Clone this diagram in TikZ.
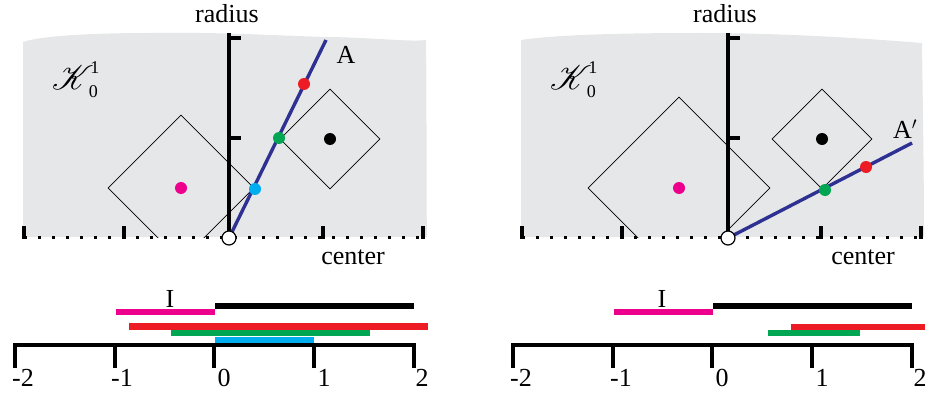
\documentclass[tikz,border=0pt]{standalone}
\usepackage{fontspec}
\setmainfont{Liberation Serif}
\usetikzlibrary{shapes.geometric}
\DeclareFontFamily{U}{rsfsbig}{\skewchar\font=127 }
\DeclareFontShape{U}{rsfsbig}{m}{n}{<-> rsfs10}{}
\newcommand{\Klabel}{{\fontsize{34}{34}\usefont{U}{rsfsbig}{m}{n}K}\kern7pt{\fontsize{18}{18}\selectfont\rlap{\raisebox{17pt}{1}}\kern-1.5pt\raisebox{-8pt}{0}}}
\definecolor{kgray}{HTML}{E6E7E8}
\definecolor{ablue}{HTML}{2E3192}
\definecolor{kred}{HTML}{ED1C24}
\definecolor{kgreen}{HTML}{00A651}
\definecolor{kcyan}{HTML}{00AEEF}
\definecolor{kmag}{HTML}{EC008C}
\begin{document}
\begin{tikzpicture}[x=1pt,y=-1pt,
  axisline/.style={line width=3.5pt,black,line join=miter},
  tickmk/.style={line width=3.5pt,black},
  dotline/.style={line width=3pt,black,dash pattern=on 3pt off 11pt},
  diam/.style={diamond,draw,line width=0.7pt,inner sep=0pt,aspect=1},
  lineA/.style={line width=3.4pt,ablue},
  dotpt/.style={circle,inner sep=0pt,minimum size=12pt},
  orig/.style={circle,inner sep=0pt,minimum size=14pt,draw,fill=white,line width=1.2pt},
  ibar/.style={line width=6.5pt},
  lbl/.style={font=\fontsize{26}{26}\selectfont,inner sep=0pt},
  klbl/.style={inner sep=0pt,anchor=base west}]
\useasboundingbox (0,0) rectangle (925,393);

% ---------- left panel ----------
\fill[kgray] (23,237) -- (23,42) .. controls (40,36) and (90,33) .. (150,33)
  .. controls (230,32) and (280,36) .. (330,37) .. controls (380,38) and (410,42) .. (426,40)
  .. controls (427,120) and (426,180) .. (427,237) -- cycle;
\node[klbl] (K1) at (52,90) {\Klabel};
\node[lbl] (rad1) at (227,14) {radius};
\node[lbl] (cen1) at (353,257) {center};
\begin{scope}
  \clip (0,0) rectangle (925,237.5);
  \node[diam,minimum size=146pt] (D1) at (181,188) {};
  \node[diam,minimum size=100pt] (D2) at (330,139) {};
\end{scope}
\draw[dotline] (24,237.5) -- (423,237.5);
\foreach \x in {24,124,323,423} \draw[tickmk] (\x,226) -- (\x,239);
\draw[axisline] (229,33) -- (229,238);
\draw[axisline] (227,38) -- (241,38);
\draw[axisline] (227,138) -- (241,138);
\coordinate (o1) at (229,238);
\coordinate (Aend) at (326,40);
\draw[lineA] (o1) -- (Aend);
\node[lbl] (Alab) at (346,55) {A};
\node[dotpt,fill=kmag] (m1) at (181,188) {};
\node[dotpt,fill=black] (b1) at (330,139) {};
\node[dotpt,fill=kcyan] (c1) at (255,189) {};
\node[dotpt,fill=kgreen] (g1) at (279,138) {};
\node[dotpt,fill=kred] (r1) at (304,84) {};
\node[orig] (O1) at (o1) {};

% ---------- left intervals ----------
\draw[ibar,kmag] (116,312) -- (215,312);
\draw[ibar,black] (215,306) -- (414,306);
\draw[ibar,kred] (129,326.5) -- (428,326.5);
\draw[ibar,kgreen] (171,333) -- (370,333);
\draw[ibar,kcyan] (215,340) -- (314,340);
\node[lbl] (I1) at (170,299) {I};
\draw[axisline] (15,368) -- (15,345) -- (414,345) -- (414,368);
\foreach \x in {115,214,314} \draw[axisline] (\x,345) -- (\x,368);
\node[lbl] (n2a) at (23,378) {-2};
\node[lbl] (n1a) at (122,378) {-1};
\node[lbl] (z0a) at (224,378) {0};
\node[lbl] (p1a) at (324,378) {1};
\node[lbl] (p2a) at (422,378) {2};

% ---------- right panel ----------
\fill[kgray] (521,237) -- (521,40) .. controls (560,34) and (640,33) .. (700,33)
  .. controls (780,33) and (860,38) .. (922,43)
  .. controls (923,120) and (924,180) .. (924,237) -- cycle;
\node[klbl] (K2) at (550,90) {\Klabel};
\node[lbl] (rad2) at (725,14) {radius};
\node[lbl] (cen2) at (863,257) {center};
\begin{scope}
  \clip (0,0) rectangle (925,237.5);
  \node[diam,minimum size=182pt] (D3) at (679,188) {};
  \node[diam,minimum size=100pt] (D4) at (822,139) {};
\end{scope}
\draw[dotline] (522,237.5) -- (921,237.5);
\foreach \x in {522,622,821,921} \draw[tickmk] (\x,226) -- (\x,239);
\draw[axisline] (728,33) -- (728,238);
\draw[axisline] (726,38) -- (740,38);
\draw[axisline] (726,138) -- (740,138);
\coordinate (o2) at (728,238);
\coordinate (A2end) at (912,143);
\draw[lineA] (o2) -- (A2end);
\node[lbl] (A2lab) at (905,129) {A$'$};
\node[dotpt,fill=kmag] (m2) at (679,188) {};
\node[dotpt,fill=black] (b2) at (822,139) {};
\node[dotpt,fill=kgreen] (g2) at (825,190) {};
\node[dotpt,fill=kred] (r2) at (866,167) {};
\node[orig] (O2) at (o2) {};

% ---------- right intervals ----------
\draw[ibar,kmag] (614,312) -- (713,312);
\draw[ibar,black] (713,306) -- (912,306);
\draw[ibar,kred] (791,327) -- (930,327);
\draw[ibar,kgreen] (768,333) -- (860,333);
\node[lbl] (I2) at (662,299) {I};
\draw[axisline] (513,368) -- (513,345) -- (912,345) -- (912,368);
\foreach \x in {613,712,812} \draw[axisline] (\x,345) -- (\x,368);
\node[lbl] (n2b) at (521,378) {-2};
\node[lbl] (n1b) at (621,378) {-1};
\node[lbl] (z0b) at (722,378) {0};
\node[lbl] (p1b) at (822,378) {1};
\node[lbl] (p2b) at (920,378) {2};
\end{tikzpicture}
\end{document}
